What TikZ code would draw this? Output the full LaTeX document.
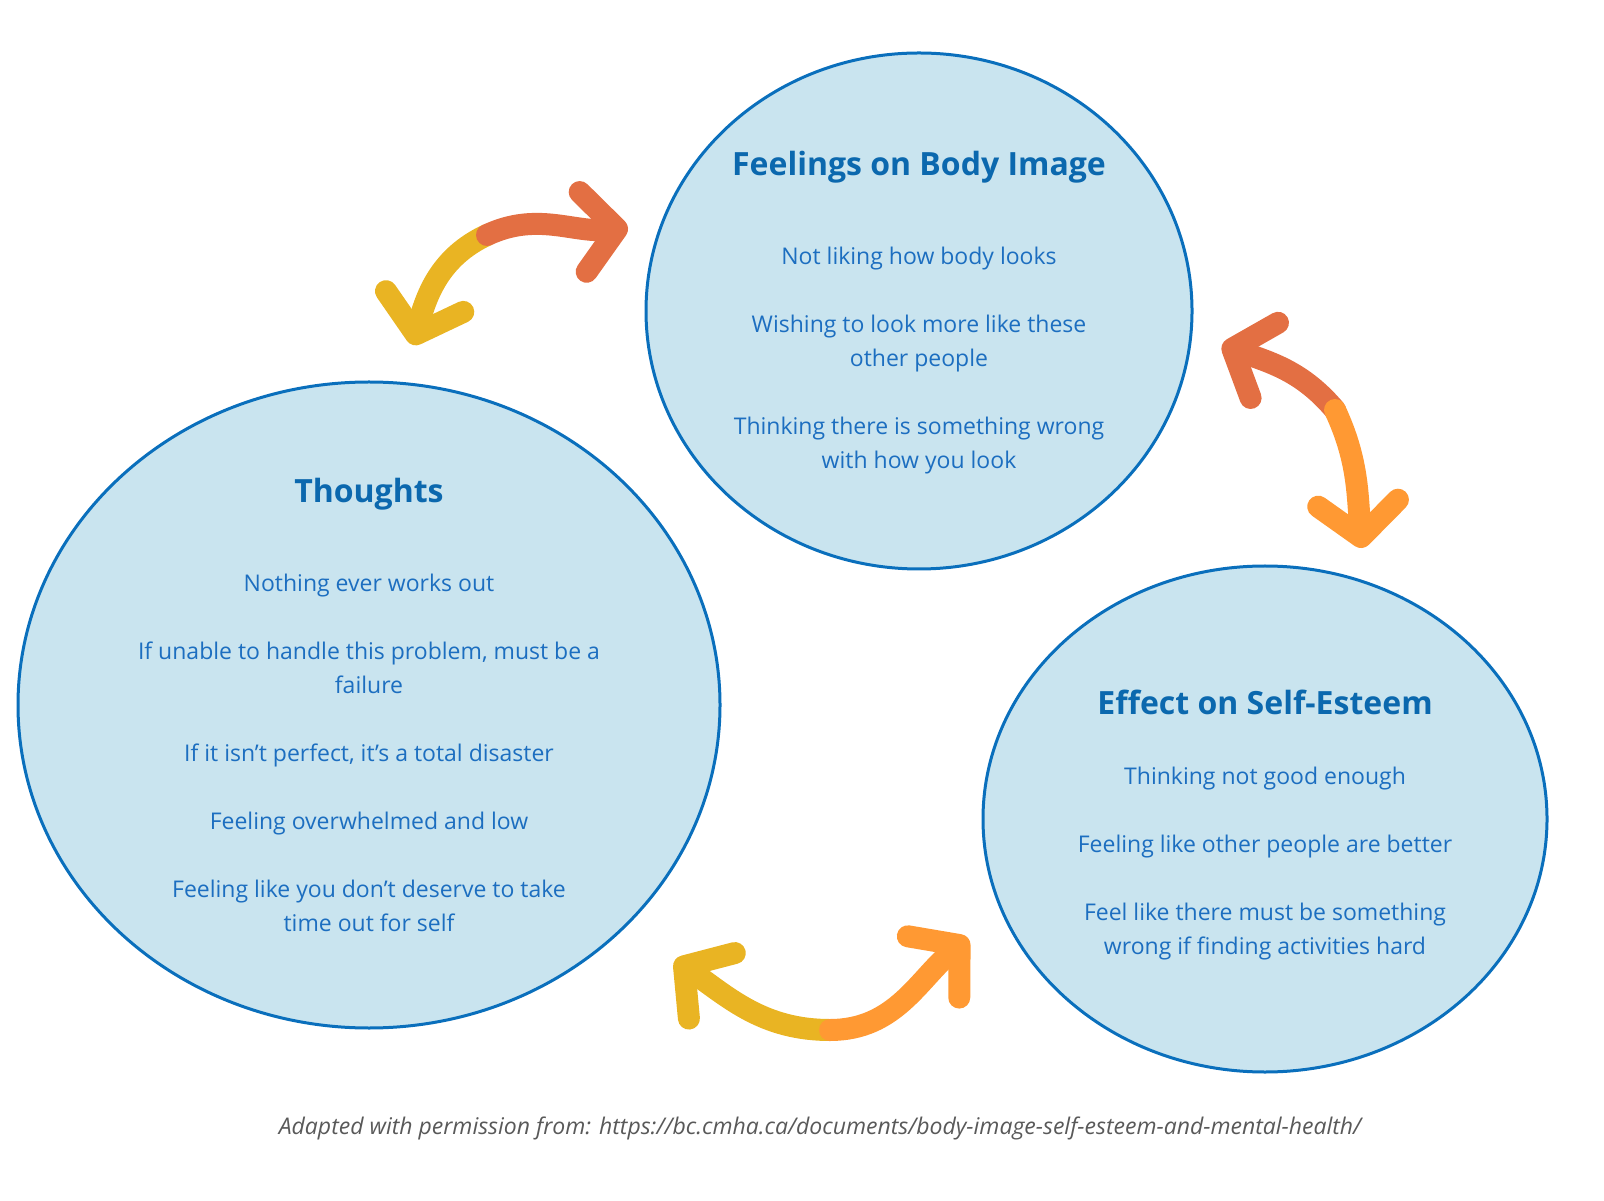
\documentclass[tikz,border=0pt]{standalone}
\usepackage{fontspec}
\setmainfont{Open Sans}
\usetikzlibrary{arrows.meta}
\definecolor{bubble}{HTML}{C9E4EF}
\definecolor{rim}{HTML}{0A6FBC}
\definecolor{words}{HTML}{1C6EC0}
\definecolor{heading}{HTML}{0B68AE}
\definecolor{mustard}{HTML}{E9B423}
\definecolor{coral}{HTML}{E36F43}
\definecolor{tangerine}{HTML}{FF9933}
\tikzset{
  bubblebox/.style={draw=rim, line width=1.5pt, fill=bubble},
  headtext/.style={font=\bfseries\fontsize{16}{19}\selectfont, text=heading},
  bodytext/.style={font=\fontsize{11.5}{17}\selectfont, text=words, align=center, anchor=north},
  loopline/.style={line width=11pt, line cap=round, line join=round,
    -{Straight Barb[length=17pt,width=40pt,line cap=round,line join=round]}},
}
\begin{document}
\begin{tikzpicture}[x=0.5pt,y=0.5pt]
\useasboundingbox (0,0) rectangle (1604,1200);
% bubbles
\draw[bubblebox] (919,889) ellipse[x radius=273,y radius=258];
\draw[bubblebox] (369,495) ellipse[x radius=351,y radius=323];
\draw[bubblebox] (1265,381) ellipse[x radius=282,y radius=253];
% feelings
\node[headtext] (feeltitle) at (919,1033) {Feelings on Body Image};
\node[bodytext] (feelbody) at (919,960) {Not liking how body looks\\[17pt]
  Wishing to look more like these\\ other people\\[17pt]
  Thinking there is something wrong\\ with how you look};
% thoughts
\node[headtext] (thinktitle) at (369,706) {Thoughts};
\node[bodytext] (thinkbody) at (369,633) {Nothing ever works out\\[17pt]
  If unable to handle this problem, must be a\\ failure\\[17pt]
  If it isn’t perfect, it’s a total disaster\\[17pt]
  Feeling overwhelmed and low\\[17pt]
  Feeling like you don’t deserve to take\\ time out for self};
% self-esteem
\node[headtext] (esteemtitle) at (1265,498) {Effect on Self-Esteem};
\node[bodytext] (esteembody) at (1265,440) {Thinking not good enough\\[17pt]
  Feeling like other people are better\\[17pt]
  Feel like there must be something\\ wrong if finding activities hard};
% loop arrows
\coordinate (midA) at (487,965);
\coordinate (endAl) at (413,855);
\coordinate (endAr) at (628,972);
\coordinate (midB) at (1335,790);
\coordinate (endBt) at (1222,855);
\coordinate (endBb) at (1362,652);
\coordinate (midC) at (830,170);
\coordinate (endCl) at (675,240);
\coordinate (endCr) at (968,262);
\draw[loopline, mustard] (midA) to[out=205,in=75] (endAl);
\draw[loopline, coral] (midA) to[out=25,in=185] (endAr);
\draw[loopline, coral] (midB) to[out=130,in=-20] (endBt);
\draw[loopline, tangerine] (midB) to[out=-65,in=95] (endBb);
\draw[loopline, mustard] (midC) to[out=180,in=-35] (endCl);
\draw[loopline, tangerine] (midC) to[out=0,in=-140] (endCr);
% source
\node[font=\itshape\fontsize{11.5}{14}\selectfont, text=black!65] (source) at (820,72)
  {Adapted with permission from: https://bc.cmha.ca/documents/body-image-self-esteem-and-mental-health/};
\end{tikzpicture}
\end{document}
